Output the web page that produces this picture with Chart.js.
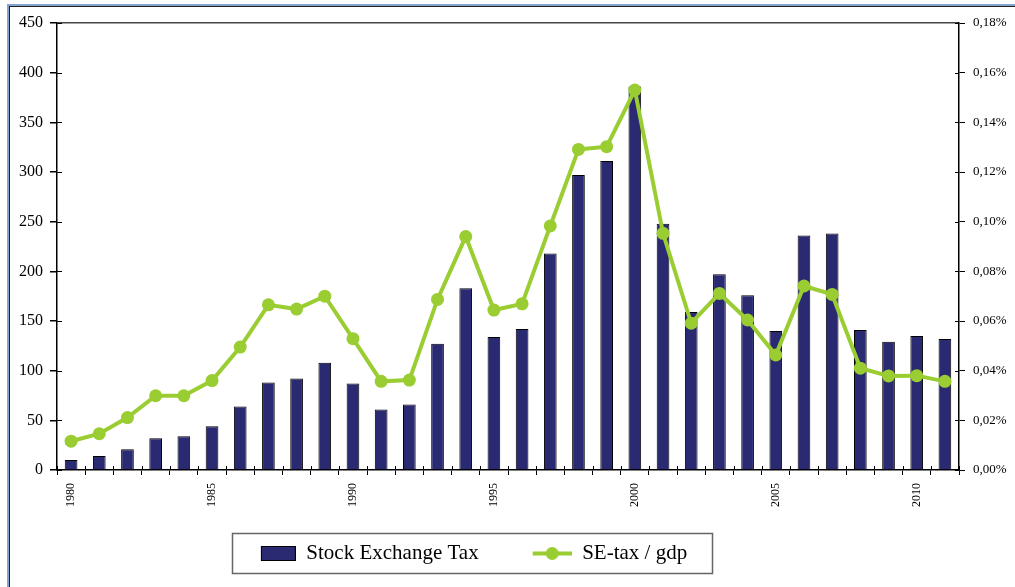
<!DOCTYPE html>
<html>
<head>
<meta charset="utf-8">
<script src="https://cdn.jsdelivr.net/npm/chart.js@4"></script>
<style>
  html, body { margin: 0; padding: 0; background: #fff; }
  #wrap { position: relative; width: 1015px; height: 587px; overflow: hidden; }
  #frame { position: absolute; left: 7px; top: 4px; right: -10px; bottom: -10px;
           border-left: 2px solid #86a3cf; border-top: 2px solid #86a3cf; }
  #frame div { position: absolute; left: 0; top: 0; right: 0; bottom: 0;
               border-left: 1px solid #222; border-top: 1px solid #222; }
  #chart { position: absolute; left: 0; top: 0; }
</style>
</head>
<body>
<div id="wrap">
  <div id="frame"><div></div></div>
  <canvas id="chart" width="1015" height="587"></canvas>
</div>
<script>
var years = ["1980", "1981", "1982", "1983", "1984", "1985", "1986", "1987", "1988", "1989",
             "1990", "1991", "1992", "1993", "1994", "1995", "1996", "1997", "1998", "1999",
             "2000", "2001", "2002", "2003", "2004", "2005", "2006", "2007", "2008", "2009",
             "2010", "2011"];

// stock exchange tax (left axis)
var taxValues = [10, 14, 21, 32, 34, 44, 64, 88, 92, 108,
                 87, 61, 66, 127, 183, 134, 142, 218, 297, 311,
                 386, 248, 159, 197, 176, 140, 236, 238, 141, 129,
                 135, 132];

// SE-tax as % of gdp (right axis, in percent)
var gdpShare = [0.0116, 0.0146, 0.0211, 0.0299, 0.0299, 0.036, 0.0495, 0.0665, 0.0648, 0.070,
                0.0529, 0.0357, 0.0362, 0.0687, 0.094, 0.0644, 0.0669, 0.0983, 0.1291, 0.1302,
                0.153, 0.0953, 0.0591, 0.0711, 0.0604, 0.0463, 0.0741, 0.0707, 0.041, 0.0379,
                0.038, 0.0357];

var leftTicks = [0, 450, 50];
var rightTicks = [0, 0.18, 0.02];

var barColor = "#2a2a72";
var lineColor = "#9acd32";
var serif = "'Liberation Serif', 'Times New Roman', serif";

// legend swatches (60px wide box, content pushed to the right)
var SW = 60;
function barSwatch() {
    var c = document.createElement("canvas");
    c.width = SW; c.height = 15;
    var g = c.getContext("2d");
    g.fillStyle = barColor;
    g.fillRect(25.5, 0.5, 34, 14);
    g.strokeStyle = "#000";
    g.lineWidth = 1;
    g.strokeRect(25.5, 0.5, 34, 14);
    return c;
}
function lineSwatch() {
    var c = document.createElement("canvas");
    c.width = SW; c.height = 15;
    var g = c.getContext("2d");
    g.strokeStyle = lineColor;
    g.lineWidth = 4;
    g.beginPath(); g.moveTo(21, 7.5); g.lineTo(60, 7.5); g.stroke();
    g.fillStyle = lineColor;
    g.beginPath(); g.arc(40.5, 7.5, 6.5, 0, Math.PI * 2); g.fill();
    return c;
}
var swatches = [barSwatch(), lineSwatch()];

var legendShift = -46;

var legendFrame = {
    id: "legendFrame",
    afterLayout: function (chart) {
        var lg = chart.legend;
        if (!lg) return;
        lg.left += legendShift;
        lg.right += legendShift;
        lg.legendHitBoxes.forEach(function (h) { h.left += legendShift; });
    },
    afterDraw: function (chart) {
        var ctx = chart.ctx;
        var a = chart.chartArea;
        var sx = chart.scales.x, sy = chart.scales.y, sy2 = chart.scales.y2;

        // inner halves of the tick marks (ticks cross the axes)
        ctx.save();
        ctx.strokeStyle = "#000";
        ctx.lineWidth = 1;
        ctx.beginPath();
        var half = (sx.getPixelForValue(1) - sx.getPixelForValue(0)) / 2;
        for (var i = 0; i <= years.length; i++) {
            var px = Math.round(sx.getPixelForValue(i) - half) + 0.5;
            ctx.moveTo(px, a.bottom);
            ctx.lineTo(px, a.bottom - 4);
        }
        sy.ticks.forEach(function (t) {
            var py = Math.round(sy.getPixelForValue(t.value)) + 0.5;
            ctx.moveTo(a.left, py); ctx.lineTo(a.left + 5, py);
        });
        sy2.ticks.forEach(function (t) {
            var py = Math.round(sy2.getPixelForValue(t.value)) + 0.5;
            ctx.moveTo(a.right, py); ctx.lineTo(a.right - 4, py);
        });
        ctx.stroke();
        ctx.restore();

        var lg = chart.legend;
        if (!lg || !lg.legendHitBoxes.length) return;
        var hb = lg.legendHitBoxes;
        var x0 = hb[0].left + 25 - 29;
        var last = hb[hb.length - 1];
        var x1 = last.left + last.width + 25;
        var cy = hb[0].top + hb[0].height / 2;
        ctx.save();
        ctx.strokeStyle = "#666";
        ctx.lineWidth = 1.5;
        ctx.strokeRect(Math.round(x0) + 0.5, Math.round(cy - 21) + 0.5, Math.round(x1 - x0), 40);
        ctx.restore();
    }
};

new Chart(document.querySelector("#chart"), {
    data: {
        labels: years,
        datasets: [{
            type: "line",
            label: "SE-tax / gdp",
            data: gdpShare,
            yAxisID: "y2",
            borderColor: lineColor,
            backgroundColor: lineColor,
            borderWidth: 4,
            pointRadius: 6.5,
            pointBorderWidth: 0,
            pointBackgroundColor: lineColor,
            tension: 0,
            order: 0
        }, {
            type: "bar",
            label: "Stock Exchange Tax",
            data: taxValues,
            yAxisID: "y",
            backgroundColor: barColor,
            borderColor: "#000",
            borderWidth: 1,
            barPercentage: 0.45,
            categoryPercentage: 1,
            order: 1
        }]
    },
    options: {
        responsive: false,
        animation: false,
        layout: { padding: { top: 23, left: 0, right: 0, bottom: 13 } },
        plugins: {
            tooltip: { enabled: false },
            legend: {
                position: "bottom",
                reverse: true,
                labels: {
                    color: "#000",
                    font: { family: serif, size: 21 },
                    padding: 33,
                    usePointStyle: true,
                    pointStyleWidth: SW,
                    boxHeight: 15,
                    generateLabels: function (chart) {
                        var items = Chart.defaults.plugins.legend.labels.generateLabels(chart);
                        items.forEach(function (it) {
                            it.pointStyle = it.datasetIndex === 1 ? swatches[0] : swatches[1];
                        });
                        return items;
                    }
                }
            }
        },
        scales: {
            x: {
                offset: true,
                grid: { display: true, drawOnChartArea: false, offset: true, tickLength: 5, color: "#000", tickColor: "#000" },
                border: { color: "#000", width: 1.5 },
                ticks: {
                    autoSkip: false,
                    maxRotation: 90,
                    minRotation: 90,
                    padding: 8,
                    color: "#000",
                    font: { family: serif, size: 12 },
                    callback: function (v, i) {
                        var yr = years[i];
                        return Number(yr) % 5 === 0 ? yr : "";
                    }
                },
                afterFit: function (s) { s.height = 40; }
            },
            y: {
                position: "left",
                min: leftTicks[0],
                max: leftTicks[1],
                ticks: { stepSize: leftTicks[2], padding: 7, color: "#000", font: { family: serif, size: 16 } },
                grid: {
                    tickLength: 7,
                    tickColor: "#000",
                    lineWidth: 1.5,
                    color: function (c) { return c.tick && c.tick.value === leftTicks[1] ? "#444" : "rgba(0,0,0,0)"; }
                },
                border: { color: "#000", width: 1.5 },
                afterFit: function (s) { s.width = 57; }
            },
            y2: {
                position: "right",
                min: rightTicks[0],
                max: rightTicks[1],
                ticks: {
                    stepSize: rightTicks[2],
                    padding: 8,
                    color: "#000",
                    font: { family: serif, size: 13 },
                    callback: function (v) { return v.toFixed(2).replace(".", ",") + "%"; }
                },
                grid: { drawOnChartArea: false, tickLength: 6, tickColor: "#000" },
                border: { color: "#000", width: 1.5 },
                afterFit: function (s) { s.width = 56; }
            }
        }
    },
    plugins: [legendFrame]
});
</script>
</body>
</html>
